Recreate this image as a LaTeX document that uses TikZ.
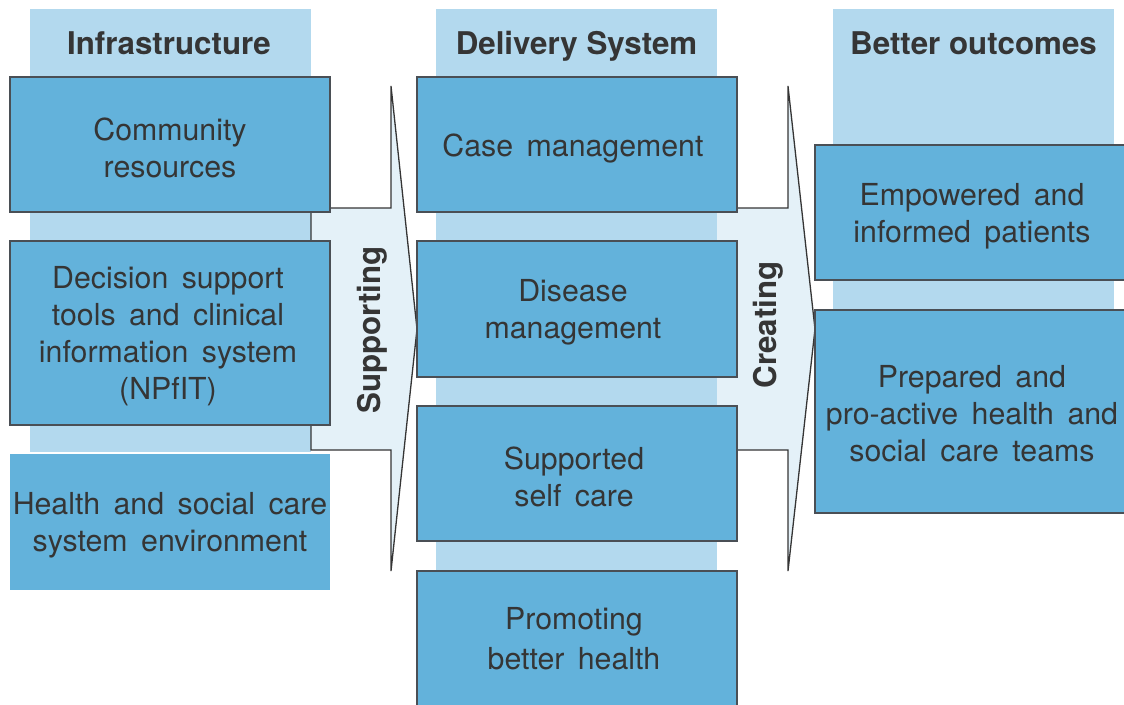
\documentclass[tikz,border=0pt]{standalone}
\usepackage{fontspec}
\setmainfont{TeX Gyre Heros}
\newfontfamily\boxfam[WordSpace=1.6]{TeX Gyre Heros}
\definecolor{boxblue}{HTML}{63B2DB}
\definecolor{lightbg}{HTML}{B3D9EE}
\definecolor{arrowfill}{HTML}{E4F1F8}
\definecolor{bordergray}{HTML}{4A4F55}
\definecolor{textgray}{HTML}{353535}
\tikzset{
  box/.style={draw=bordergray, line width=1.4pt, fill=boxblue, inner sep=0pt},
  boxtext/.style={text=textgray, inner sep=0pt, align=center,
    font=\boxfam\fontsize{30.3}{37}\selectfont},
  header/.style={text=textgray, font=\bfseries\fontsize{31.3}{36}\selectfont, inner sep=0pt},
  arrowline/.style={draw=textgray, line width=1.3pt},
}
\begin{document}
\begin{tikzpicture}[x=1pt,y=-1pt]
\useasboundingbox (0,0) rectangle (1124,704);
\clip (0,0) rectangle (1124,704);
% column backgrounds
\fill[lightbg] (30,9) rectangle (311,452);
\fill[lightbg] (436,9) rectangle (717,571);
\fill[lightbg] (833,9) rectangle (1114,310);
% arrow 1
\fill[arrowfill] (311,208) -- (391,208) -- (391,86) -- (417,329) -- (391,571) -- (391,450) -- (311,450) -- cycle;
\draw[arrowline] (311,208) -- (391,208) -- (391,86) -- (417,329) -- (391,571) -- (391,450) -- (311,450) -- cycle;
% arrow 2
\fill[arrowfill] (717,208) -- (788,208) -- (788,86) -- (815,329) -- (788,571) -- (788,450) -- (717,450) -- cycle;
\draw[arrowline] (737,450) -- (788,450) -- (788,571) -- (815,329) -- (788,86) -- (788,208) -- (737,208);
% headers
\node[header, anchor=base] (h1) at (169,54) {Infrastructure};
\node[header, anchor=base] (h2) at (576.5,54) {Delivery System};
\node[header, anchor=base] (h3) at (973.5,54) {Better outcomes};
% column 1
\node[box, minimum width=320, minimum height=135] (c1a) at (170,144.5) {};
\node[box, minimum width=320, minimum height=184] (c1b) at (170,333) {};
\node[box, draw=none, minimum width=320, minimum height=136] (c1c) at (170,522) {};
% column 2
\node[box, minimum width=320, minimum height=135] (c2a) at (577,144.5) {};
\node[box, minimum width=320, minimum height=136] (c2b) at (577,309) {};
\node[box, minimum width=320, minimum height=135] (c2c) at (577,473.5) {};
\node[box, minimum width=320, minimum height=139] (c2d) at (577,640.5) {};
% column 3
\node[box, minimum width=314, minimum height=135] (c3a) at (972,212.5) {};
\node[box, minimum width=314, minimum height=203] (c3b) at (972,411.5) {};
% box texts
\node[boxtext] (t1a) at ([yshift=-3pt]c1a.center) {Community\\resources};
\node[boxtext] (t1b) at ([xshift=-2pt,yshift=-3.5pt]c1b.center) {Decision support\\tools and clinical\\information system\\(NPfIT)};
\node[boxtext] (t1c) at ([yshift=-3pt]c1c.center) {Health and social care\\system environment};
\node[boxtext] (t2a) at ([xshift=-4pt,yshift=-3.5pt]c2a.center) {Case management};
\node[boxtext] (t2b) at ([xshift=-4pt,yshift=-3.5pt]c2b.center) {Disease\\management};
\node[boxtext] (t2c) at ([xshift=-3pt,yshift=-3pt]c2c.center) {Supported\\self care};
\node[boxtext, font=\boxfam\fontsize{30.3}{40}\selectfont] (t2d) at ([xshift=-3pt,yshift=2pt]c2d.center) {Promoting\\better health};
\node[boxtext] (t3a) at ([yshift=-3.5pt]c3a.center) {Empowered and\\informed patients};
\node[boxtext] (t3b) at ([yshift=-2.5pt]c3b.center) {Prepared and\\pro-active health and\\social care teams};
% arrow labels
\node[header, rotate=90, anchor=base] (s1) at (380,330) {Supporting};
\node[header, rotate=90, anchor=base] (s2) at (776,325) {Creating};
\end{tikzpicture}
\end{document}
